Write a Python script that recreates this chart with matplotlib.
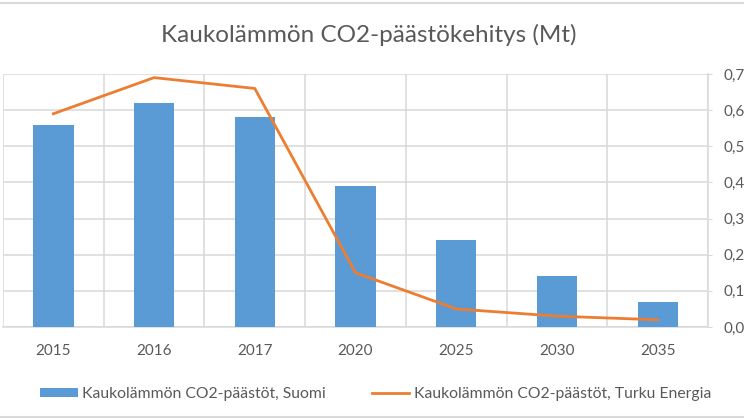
import numpy as np
import matplotlib
matplotlib.use("Agg")
import matplotlib.pyplot as plt
from matplotlib.lines import Line2D

plt.rcParams['font.family'] = ['Lato', 'DejaVu Sans']

years = ['2015', '2016', '2017', '2020', '2025', '2030', '2035']
suomi = [5.6, 6.2, 5.8, 3.9, 2.4, 1.4, 0.7]           # Mt, left axis (cropped)
turku = [0.59, 0.69, 0.66, 0.15, 0.05, 0.03, 0.02]    # Mt, right axis
right_ticks = [0.0, 0.1, 0.2, 0.3, 0.4, 0.5, 0.6, 0.7]

grid_col = '#D9D9D9'
txt_col = '#595959'

fig = plt.figure(figsize=(7.44, 4.19), dpi=100)
ax = fig.add_axes([3 / 744, 1 - 327 / 419, 705 / 744, 253 / 419])
x = np.arange(len(years))
ax.bar(x, suomi, width=0.4, color='#5B9BD5', zorder=3,
       label='Kaukolämmön CO2-päästöt, Suomi')
ax.set_xlim(-0.5, len(years) - 0.5)
ax.set_ylim(0, 7)
ax.set_yticks(np.arange(0, 8, 1))
ax.set_yticklabels([])
ax.tick_params(axis='y', length=0)
ax.set_xticks(x)
ax.set_xticklabels(years, color=txt_col, fontsize=11)
ax.tick_params(axis='x', length=0, pad=12)
ax.set_xticks(np.arange(-0.5, len(years), 1), minor=True)
ax.tick_params(axis='x', which='minor', length=0)
ax.grid(True, axis='y', color=grid_col, linewidth=1.1, zorder=0)
ax.grid(True, axis='x', which='minor', color=grid_col, linewidth=1.1, zorder=0)
for s in ['top', 'right', 'left']:
    ax.spines[s].set_visible(False)
ax.spines['bottom'].set_color(grid_col)
ax.spines['bottom'].set_linewidth(1.1)

ax2 = ax.twinx()
ax2.plot(x, turku, color='#ED7D31', linewidth=2.0, zorder=4,
         label='Kaukolämmön CO2-päästöt, Turku Energia')
ax2.set_ylim(0, 0.7)
ax2.set_yticks(right_ticks)
ax2.set_yticklabels([('%.1f' % v).replace('.', ',') for v in right_ticks],
                    color=txt_col, fontsize=11)
ax2.tick_params(axis='y', length=3, color=grid_col, pad=8.5)
for s in ['top', 'left', 'bottom']:
    ax2.spines[s].set_visible(False)
ax2.spines['right'].set_color(grid_col)
ax2.spines['right'].set_linewidth(1.1)

fig.text(0.496, 1 - 35 / 419, 'Kaukolämmön CO2-päästökehitys (Mt)',
         ha='center', va='center', fontsize=17.5, color=txt_col)

h1, l1 = ax.get_legend_handles_labels()
h2, l2 = ax2.get_legend_handles_labels()
fig.legend(h1 + h2, l1 + l2, loc='center', bbox_to_anchor=(0.505, 1 - 394 / 419),
           ncol=2, frameon=False, fontsize=11.3, labelcolor=txt_col,
           handlelength=2.4, handleheight=0.5, handletextpad=0.3,
           columnspacing=2.9, borderpad=0)

fig.add_artist(Line2D([0, 1], [1 - 3 / 419, 1 - 3 / 419], color=grid_col,
                      linewidth=1.5, transform=fig.transFigure))
fig.add_artist(Line2D([0, 1], [2 / 419, 2 / 419], color=grid_col,
                      linewidth=1.5, transform=fig.transFigure))

fig.savefig('out.png', dpi=100)
